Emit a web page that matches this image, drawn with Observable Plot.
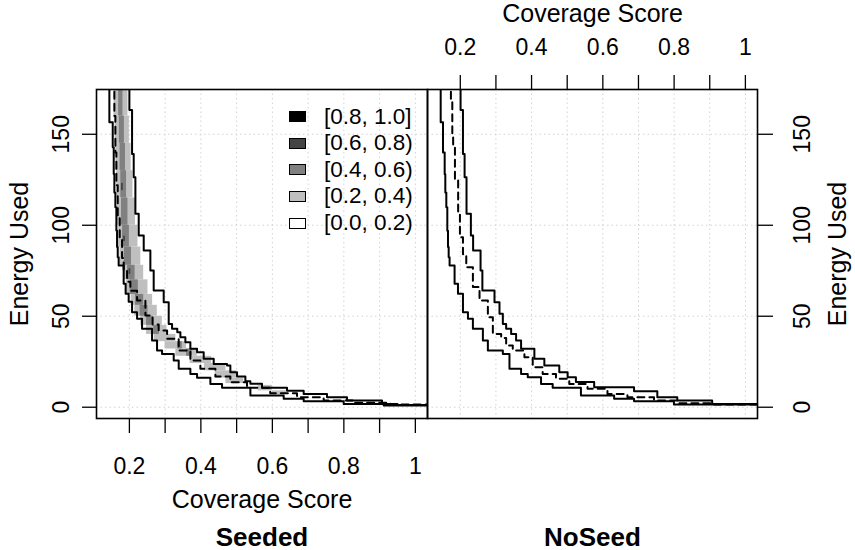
<!DOCTYPE html>
<html>
<head>
<meta charset="utf-8">
<script src="https://cdn.jsdelivr.net/npm/d3@7"></script>
<script src="https://cdn.jsdelivr.net/npm/@observablehq/plot@0.6"></script>
<style>
  body { margin: 0; background: #fff; }
  #chart { position: relative; width: 855px; height: 550px; overflow: hidden;
           font-family: "Liberation Sans", Arial, Helvetica, sans-serif; }
  #chart svg { position: absolute; top: 0; }
  .legend { position: absolute; left: 289px; top: 103.4px; font-size: 22.5px; color: #000; }
  .legend .row { display: flex; align-items: center; height: 26.6px; }
  .legend .sw { width: 15px; height: 9px; border: 1px solid #000; margin-right: 18px; }
</style>
</head>
<body>
<div id="chart"></div>
<script>
// Shared scales and ticks
const xDomain = [0.108, 1.034];
const yDomain = [-6.2, 174.6];
const xTicks = [0.2, 0.3, 0.4, 0.5, 0.6, 0.7, 0.8, 0.9, 1.0];
const xTickLabels = ["0.2", "", "0.4", "", "0.6", "", "0.8", "", "1"];
const yTicks = [0, 50, 100, 150];

// Density levels (legend)
const levelLabels = ["[0.0, 0.2)", "[0.2, 0.4)", "[0.4, 0.6)", "[0.6, 0.8)", "[0.8, 1.0]"];
const levelColors = ["#ffffff", "#bfbfbf", "#808080", "#444444", "#000000"];

// Seeded: upper bound, lower bound, median (step curves)
const seededUpperCov = [0.2, 0.2, 0.2075, 0.2121, 0.2168, 0.2261, 0.2401, 0.2587, 0.268, 0.296, 0.31, 0.3194, 0.334, 0.3427, 0.3566, 0.3706, 0.3893, 0.4079, 0.4359, 0.4732, 0.4825, 0.5012, 0.5245, 0.5385, 0.571, 0.641, 0.6876, 0.7529, 0.8089, 0.9068, 0.95, 1.04];
const seededUpperEnergy = [180, 163.4, 139.2, 126.4, 106.3, 94.3, 86.1, 75.1, 64.1, 57.7, 45.8, 43.1, 41.2, 38.5, 35.7, 32.1, 30.2, 26.6, 23.8, 22.9, 19.2, 16.9, 14.3, 12.9, 10.7, 9.0, 7.3, 5.5, 3.7, 1.8, 1.2, 1.2];
const seededLowerCov = [0.144, 0.144, 0.1534, 0.1562, 0.158, 0.1608, 0.1636, 0.1655, 0.1674, 0.17, 0.184, 0.1895, 0.198, 0.2075, 0.2215, 0.2354, 0.2634, 0.2774, 0.2914, 0.324, 0.338, 0.3706, 0.3893, 0.4266, 0.4592, 0.5385, 0.6317, 0.6876, 0.7995, 0.9114, 1.04];
const seededLowerEnergy = [180, 156.6, 142.9, 128.2, 118, 109.9, 97.1, 88, 82.4, 77.9, 67.8, 62.3, 58, 52.2, 48.6, 43.1, 36.6, 31.2, 29.3, 25.7, 21.1, 18.3, 16.2, 12.8, 10.7, 6.4, 4.6, 3.3, 1.8, 0.9, 0.9];
const seededMedianCov = [0.158, 0.158, 0.1608, 0.1636, 0.1674, 0.173, 0.1795, 0.184, 0.1935, 0.2028, 0.2215, 0.2448, 0.265, 0.282, 0.3055, 0.338, 0.3706, 0.3986, 0.4406, 0.4825, 0.529, 0.594, 0.669, 0.7435, 0.827, 0.93, 1.04];
const seededMedianEnergy = [180, 160, 140, 122, 104, 92, 82, 75, 69, 64, 58.6, 50.4, 45.5, 42.1, 37.6, 31.2, 25.7, 21.1, 16.9, 13.7, 10.7, 7.7, 5.5, 3.7, 2.4, 1.5, 0.8];

// NoSeed: upper bound, lower bound, median
const noSeedUpperCov = [0.2008, 0.2008, 0.2075, 0.2121, 0.2175, 0.2297, 0.236, 0.2569, 0.262, 0.296, 0.31, 0.3194, 0.3287, 0.3427, 0.3566, 0.3706, 0.4079, 0.4359, 0.4778, 0.5012, 0.5245, 0.5757, 0.6876, 0.7529, 0.8089, 0.9068, 1.04];
const noSeedUpperEnergy = [180, 163.4, 139.2, 126.4, 106.3, 94.3, 86.1, 75.1, 64.1, 57.7, 51.3, 45.8, 43.1, 40.3, 36.6, 32.1, 26.6, 22.9, 19.2, 16.5, 13.8, 11.0, 8.8, 5.5, 3.7, 1.8, 1.8];
const noSeedLowerCov = [0.145, 0.145, 0.1515, 0.1562, 0.158, 0.1608, 0.1636, 0.1655, 0.1674, 0.17, 0.184, 0.1935, 0.2075, 0.2215, 0.2354, 0.2634, 0.2774, 0.3194, 0.338, 0.3706, 0.3893, 0.4266, 0.4592, 0.5385, 0.6317, 0.6876, 0.7995, 1.04];
const noSeedLowerEnergy = [180, 156.6, 140, 128, 118, 109.9, 97, 88, 82.4, 77.9, 67.8, 62.3, 52.2, 48.6, 43.1, 36.6, 31.2, 29.3, 21.1, 18.3, 16.5, 12.8, 10.7, 6.4, 4.6, 3.3, 1.5, 0.9];
const noSeedMedianCov = [0.1737, 0.1737, 0.1776, 0.18, 0.185, 0.194, 0.199, 0.2075, 0.2168, 0.2354, 0.254, 0.2774, 0.2914, 0.3147, 0.3287, 0.3473, 0.38, 0.4033, 0.4312, 0.4685, 0.5058, 0.5571, 0.613, 0.669, 0.7436, 0.8089, 0.9114, 1.04];
const noSeedMedianEnergy = [180, 168.5, 150.2, 142.9, 124.6, 106.3, 93.4, 84, 76.9, 66, 58.6, 49.5, 40.3, 38.1, 33.9, 31.2, 27.5, 22, 18.3, 15.6, 12.8, 10.1, 7.3, 5.5, 3.7, 2.2, 1.5, 0.7];

// Seeded density cells: coverage range, energy range, level index
const cellCovMin = [0.157, 0.160, 0.162, 0.165, 0.167, 0.170, 0.174, 0.186, 0.192, 0.205, 0.215, 0.232, 0.248, 0.270, 0.300, 0.330, 0.370, 0.410, 0.440, 0.470, 0.560, 0.600,
  0.170, 0.172, 0.174, 0.176, 0.178, 0.181, 0.186, 0.195, 0.202, 0.217, 0.230, 0.248, 0.268, 0.335, 0.360,
  0.178, 0.184, 0.199];
const cellCovMax = [0.196, 0.200, 0.205, 0.210, 0.217, 0.224, 0.232, 0.240, 0.252, 0.265, 0.278, 0.292, 0.305, 0.330, 0.360, 0.390, 0.430, 0.470, 0.500, 0.520, 0.600, 0.640,
  0.182, 0.186, 0.189, 0.192, 0.196, 0.200, 0.206, 0.216, 0.225, 0.240, 0.252, 0.266, 0.284, 0.348, 0.376,
  0.183, 0.189, 0.204];
const cellEnergyMin = [160, 145, 130, 115, 100, 88, 78, 70, 62, 56, 50, 45, 40, 36, 32, 28, 24, 20, 16, 13, 9, 7,
  160, 145, 130, 115, 100, 88, 78, 70, 62, 56, 50, 45, 40, 32, 28,
  119, 91, 73];
const cellEnergyMax = [175, 160, 145, 130, 115, 100, 88, 78, 70, 62, 56, 50, 45, 40, 36, 32, 28, 24, 20, 16, 12, 9,
  175, 160, 145, 130, 115, 100, 88, 78, 70, 62, 56, 50, 45, 36, 32,
  123, 94, 76];
const cellLevel = [1, 1, 1, 1, 1, 1, 1, 1, 1, 1, 1, 1, 1, 1, 1, 1, 1, 1, 1, 1, 1, 1,
  2, 2, 2, 2, 2, 2, 2, 2, 2, 2, 2, 2, 2, 2, 2,
  3, 3, 3];

const pairs = (cov, energy) => cov.map((c, i) => ({cov: c, energy: energy[i]}));
const cells = cellLevel.map((lv, i) => ({
  x1: cellCovMin[i], x2: cellCovMax[i], y1: cellEnergyMin[i], y2: cellEnergyMax[i], level: levelLabels[lv]
}));
const tickLabelOf = new Map(xTicks.map((t, i) => [t, xTickLabels[i]]));

const font = '"Liberation Sans", Arial, Helvetica, sans-serif';
const gridStyle = {stroke: "#d2d2d2", strokeOpacity: 1, strokeWidth: 1, strokeDasharray: "1.5,3"};

function curveMarks(upper, lower, median) {
  return [
    Plot.line(upper, {x: "cov", y: "energy", curve: "step-after", stroke: "#000", strokeWidth: 2, clip: true}),
    Plot.line(lower, {x: "cov", y: "energy", curve: "step-after", stroke: "#000", strokeWidth: 2, clip: true}),
    Plot.line(median, {x: "cov", y: "energy", curve: "step-after", stroke: "#000", strokeWidth: 2, strokeDasharray: "7,5", clip: true})
  ];
}

function panel({width, marginLeft, marginRight, marks}) {
  return Plot.plot({
    width, height: 550,
    marginLeft, marginRight, marginTop: 89, marginBottom: 132,
    x: {domain: xDomain},
    y: {domain: yDomain},
    color: {type: "ordinal", domain: levelLabels, range: levelColors},
    style: {fontFamily: font, fontSize: "23px", background: "transparent", overflow: "visible", color: "#000"},
    marks
  });
}

// Seeded panel: y axis left, x axis bottom
const seeded = panel({
  width: 432, marginLeft: 96, marginRight: 5,
  marks: [
    Plot.gridX(xTicks, gridStyle),
    Plot.gridY(yTicks, gridStyle),
    Plot.rect(cells, {x1: "x1", x2: "x2", y1: "y1", y2: "y2", fill: "level", clip: true}),
    ...curveMarks(pairs(seededUpperCov, seededUpperEnergy), pairs(seededLowerCov, seededLowerEnergy), pairs(seededMedianCov, seededMedianEnergy)),
    Plot.frame({stroke: "#000", strokeWidth: 1.6}),
    Plot.axisX(xTicks, {anchor: "bottom", tickSize: 15, tickPadding: 24, strokeWidth: 1.3, fontSize: 23, label: null,
      tickFormat: d => tickLabelOf.get(d)}),
    Plot.axisY(yTicks, {anchor: "left", tickSize: 14, strokeWidth: 1.3, label: null, tickFormat: () => ""}),
    Plot.text(yTicks, {y: d => d, text: d => String(d), frameAnchor: "left", textAnchor: "middle", dx: -35, rotate: -90, fontSize: 23}),
    Plot.text(["Energy Used"], {text: d => d, frameAnchor: "left", textAnchor: "middle", dx: -77, rotate: -90, fontSize: 25}),
    Plot.text(["Coverage Score"], {text: d => d, frameAnchor: "bottom", lineAnchor: "bottom", dy: 89, fontSize: 25}),
    Plot.text(["Seeded"], {text: d => d, frameAnchor: "bottom", lineAnchor: "bottom", dy: 127, fontSize: 26, fontWeight: "bold"})
  ]
});

// NoSeed panel: y axis right, x axis top
const noSeed = panel({
  width: 433, marginLeft: 5, marginRight: 98,
  marks: [
    Plot.gridX(xTicks, gridStyle),
    Plot.gridY(yTicks, gridStyle),
    ...curveMarks(pairs(noSeedUpperCov, noSeedUpperEnergy), pairs(noSeedLowerCov, noSeedLowerEnergy), pairs(noSeedMedianCov, noSeedMedianEnergy)),
    Plot.frame({stroke: "#000", strokeWidth: 1.6}),
    Plot.axisX(xTicks, {anchor: "top", tickSize: 15, tickPadding: 20, strokeWidth: 1.3, fontSize: 23, label: null,
      tickFormat: d => tickLabelOf.get(d)}),
    Plot.axisY(yTicks, {anchor: "right", tickSize: 15, strokeWidth: 1.3, label: null, tickFormat: () => ""}),
    Plot.text(yTicks, {y: d => d, text: d => String(d), frameAnchor: "right", textAnchor: "middle", dx: 45, rotate: -90, fontSize: 23}),
    Plot.text(["Energy Used"], {text: d => d, frameAnchor: "right", textAnchor: "middle", dx: 80, rotate: -90, fontSize: 25}),
    Plot.text(["Coverage Score"], {text: d => d, frameAnchor: "top", lineAnchor: "bottom", dy: -68, fontSize: 25}),
    Plot.text(["NoSeed"], {text: d => d, frameAnchor: "bottom", lineAnchor: "bottom", dy: 127, fontSize: 26, fontWeight: "bold"})
  ]
});

const chart = document.getElementById("chart");
seeded.style.left = "0px";
noSeed.style.left = "422px";
chart.appendChild(seeded);
chart.appendChild(noSeed);

// Legend for the density levels, highest level first
const legend = document.createElement("div");
legend.className = "legend";
for (let i = levelLabels.length - 1; i >= 0; i--) {
  const row = document.createElement("div");
  row.className = "row";
  const sw = document.createElement("div");
  sw.className = "sw";
  sw.style.background = levelColors[i];
  const label = document.createElement("span");
  label.textContent = levelLabels[i];
  row.appendChild(sw);
  row.appendChild(label);
  legend.appendChild(row);
}
chart.appendChild(legend);
</script>
</body>
</html>
